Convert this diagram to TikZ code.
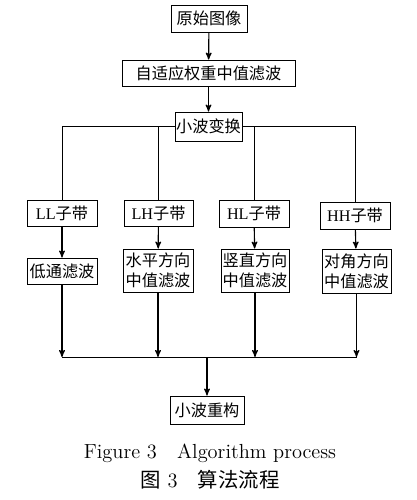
\documentclass[tikz,border=0pt]{standalone}
\usepackage{fontspec}
\newfontfamily\cjk{Noto Sans CJK SC}
\newfontfamily\tms{Liberation Serif}
\usepackage{tikz}
\usetikzlibrary{arrows}

\begin{document}
\begin{tikzpicture}[x=0.025cm,y=-0.025cm,>=stealth',thick,
  box/.style={draw,semithick,inner sep=0pt,align=center,font=\fontsize{11.5}{14}\selectfont\cjk,minimum height=0.65cm},
  figtext/.style={inner sep=0pt}]
\useasboundingbox (0,0) rectangle (416,500);
\node[box,minimum width=1.9cm,minimum height=0.675cm] (src) at (209,18.5) {原始图像};
\node[box,minimum width=4.325cm] (amf) at (208.5,73) {自适应权重中值滤波};
\node[box,minimum width=1.675cm,minimum height=0.725cm] (dwt) at (208.5,126.5) {小波变换};
\node[box,minimum width=1.75cm] (LL) at (62,213) {{\tms LL}子带};
\node[box,minimum width=1.725cm] (LH) at (158.5,213) {{\tms LH}子带};
\node[box,minimum width=1.75cm,minimum height=0.675cm] (HL) at (254,213.5) {{\tms HL}子带};
\node[box,minimum width=1.75cm,minimum height=0.675cm] (HH) at (355,215.5) {{\tms HH}子带};
\node[box,minimum width=1.75cm] (fLL) at (62,271) {低通滤波};
\node[box,minimum width=1.75cm,minimum height=1.075cm] (fLH) at (158,270.5) {水平方向\\中值滤波};
\node[box,minimum width=1.7cm,minimum height=1.075cm] (fHL) at (255,270.5) {竖直方向\\中值滤波};
\node[box,minimum width=1.725cm,minimum height=1.1cm] (fHH) at (356.5,271) {对角方向\\中值滤波};
\node[box,minimum width=1.85cm,minimum height=0.7cm] (idwt) at (207,410) {小波重构};
\coordinate (J) at (207,357);
\node[figtext,font=\fontsize{14.5}{16}\selectfont] (c1) at (210,453) {Figure 3\quad Algorithm process};
\node[figtext,font=\fontsize{14.5}{16}\selectfont] (c2) at (210,480) {{\cjk 图} 3\quad {\cjk 算法流程}};
\draw[->] (src) -- (amf);
\draw[->] (amf) -- (dwt);
\draw[semithick] (dwt.west) -| (LL);
\draw[semithick] (dwt.east) -| (HH);
\draw[semithick] (LH |- dwt) -- (LH);
\draw[semithick] (HL |- dwt) -- (HL);
\draw[->] (LL) -- (fLL);
\draw[->] (LH) -- (fLH);
\draw[->] (HL) -- (fHL);
\draw[->] (HH) -- (fHH);
\draw[->] (fLL) -- (fLL |- J);
\draw[->] (fLH) -- (fLH |- J);
\draw[->] (fHL) -- (fHL |- J);
\draw[->] (fHH) -- (fHH |- J);
\draw[semithick] (fLL |- J) -- (fHH |- J);
\draw[->] (J) -- (idwt);
\end{tikzpicture}
\end{document}
